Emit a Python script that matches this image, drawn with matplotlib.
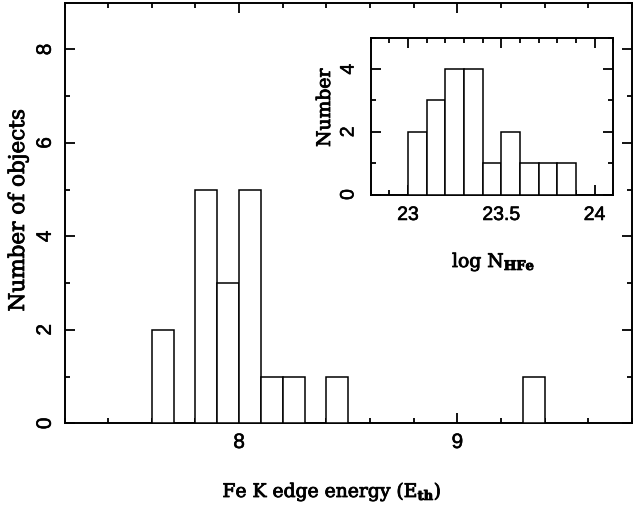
import matplotlib.pyplot as plt
import matplotlib.patheffects as pe
from matplotlib.ticker import MultipleLocator

plt.rcParams['mathtext.fontset'] = 'dejavuserif'

# histogramme principal : bord gauche des classes (keV) et nombre d'objets
eth_left = [7.6, 7.8, 7.9, 8.0, 8.1, 8.2, 8.4, 9.3]
eth_counts = [2, 5, 3, 5, 1, 1, 1, 1]
eth_width = 0.1

# encart : log N_HFe
nh_left = [23.0, 23.1, 23.2, 23.3, 23.4, 23.5, 23.6, 23.7, 23.8]
nh_counts = [2, 3, 4, 4, 1, 2, 1, 1, 1]
nh_width = 0.1

# un peu d'epaisseur pour imiter l'impression
heavy = [pe.withStroke(linewidth=0.6, foreground='black')]
tick_font = {'family': 'Liberation Sans', 'size': 15}
inset_tick_font = {'family': 'Liberation Sans', 'size': 14}
label_font = {'family': 'DejaVu Serif', 'size': 13.5}

W, H = 633, 508
fig = plt.figure(figsize=(W / 100, H / 100), dpi=100)


def px(x, y):
    return x / W, 1 - y / H


def style_axes(a, lw=1.4):
    for s in a.spines.values():
        s.set_linewidth(lw)
    a.tick_params(which='both', direction='in', top=True, right=True, width=1.3)
    a.tick_params(which='major', length=7)
    a.tick_params(which='minor', length=3.6)


# axes principal
ax = fig.add_axes([64.5 / W, 1 - 423.3 / H, (632 - 64.5) / W, (423.3 - 2.7) / H])
ax.bar(eth_left, eth_counts, width=eth_width, align='edge',
       facecolor='white', edgecolor='black', linewidth=1.1, zorder=3)
ax.set_xlim(7.2, 9.8)
ax.set_ylim(0, 9)
ax.set_xticks([8, 9])
ax.xaxis.set_minor_locator(MultipleLocator(0.2))
ax.set_yticks([0, 2, 4, 6, 8])
ax.yaxis.set_minor_locator(MultipleLocator(1))
style_axes(ax)
ax.tick_params(axis='x', pad=7)
ax.tick_params(axis='y', pad=7)
ax.set_xticklabels(['8', '9'], fontdict=tick_font)
ax.set_yticklabels(['0', '2', '4', '6', '8'], fontdict=tick_font,
                   rotation=90, va='center')

fig.text(*px(18, 210), 'Number of objects', rotation=90,
         ha='center', va='center', family='DejaVu Serif', size=15.5,
         path_effects=heavy)
fig.text(*px(332, 497), r'Fe K edge energy (E$_{\mathbf{th}}$)',
         ha='center', va='baseline', path_effects=heavy, **label_font)

# encart
ins = fig.add_axes([370.7 / W, 1 - 194.5 / H, (613.3 - 370.7) / W, (194.5 - 37.7) / H])
ins.bar(nh_left, nh_counts, width=nh_width, align='edge',
        facecolor='white', edgecolor='black', linewidth=1.1, zorder=3)
ins.set_xlim(22.8, 24.1)
ins.set_ylim(0, 5)
ins.set_xticks([23, 23.5, 24])
ins.xaxis.set_minor_locator(MultipleLocator(0.1))
ins.set_yticks([0, 2, 4])
ins.yaxis.set_minor_locator(MultipleLocator(1))
style_axes(ins)
ins.tick_params(axis='x', pad=9)
ins.tick_params(axis='y', pad=9.5)
ins.set_xticklabels(['23', '23.5', '24'], fontdict=inset_tick_font)
ins.set_yticklabels(['0', '2', '4'], fontdict=inset_tick_font, rotation=90, va='center')

for t in ax.get_xticklabels() + ax.get_yticklabels() + ins.get_xticklabels() + ins.get_yticklabels():
    t.set_path_effects([pe.withStroke(linewidth=0.4, foreground='black')])

fig.text(*px(325, 108), 'Number', rotation=90, ha='center', va='center',
         path_effects=heavy, **label_font)
fig.text(*px(452, 267), r'log N$_{\mathbf{HFe}}$', ha='left', va='baseline',
         path_effects=heavy, **label_font)

fig.savefig('out.png', dpi=100)
